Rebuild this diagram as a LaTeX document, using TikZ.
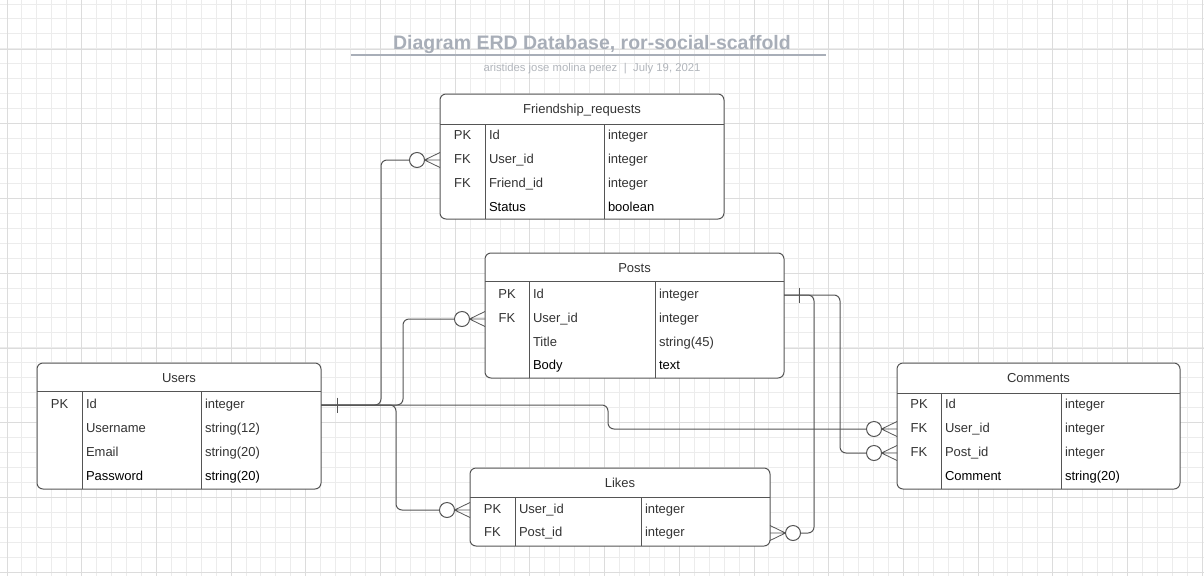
\documentclass[tikz,border=0pt]{standalone}
\usepackage{fontspec}
\setmainfont{Liberation Sans}
\usetikzlibrary{calc}
\definecolor{gridminor}{RGB}{236,236,236}
\definecolor{gridmajor}{RGB}{220,220,220}
\definecolor{edgec}{RGB}{85,85,85}
\definecolor{txtc}{RGB}{51,51,51}
\definecolor{titlec}{RGB}{168,174,184}
\definecolor{subc}{RGB}{178,182,188}
\tikzset{
 entbox/.style={draw=edgec, fill=white, line width=1, rounded corners=6, inner sep=0, outer sep=0, anchor=north west},
 entline/.style={draw=edgec, line width=1},
 txt/.style={inner sep=0, outer sep=0, text=txtc, font=\fontsize{13}{15}\selectfont},
 conn/.style={draw=edgec, line width=1, rounded corners=6},
 crow/.style={draw=edgec, line width=0.8},
 zc/.style={circle, draw=edgec, line width=1, fill=white, minimum size=15, inner sep=0, outer sep=0},
}
% #1 name #2 left #3 top #4 w #5 h #6 header #7 col1 #8 col2 #9 title
\newcommand\erdent[9]{%
  \node[entbox, minimum width=#4, minimum height=#5] (#1) at (#2,#3) {};
  \node[txt, anchor=base] (#1-h) at ($(#1.north)+(0,19.3)$) {#9};
  \draw[entline] ($(#1.north west)+(0,#6)$) -- ($(#1.north east)+(0,#6)$);
  \draw[entline] ($(#1.north west)+(#7,#6)$) -- ($(#1.south west)+(#7,0)$);
  \draw[entline] ($(#1.north west)+(#8,#6)$) -- ($(#1.south west)+(#8,0)$);
}
% #1 entity #2 row #3 yoff #4 col1 #5 col2 #6 key #7 field #8 type #9 colour
\newcommand\erdrow[9]{%
  \coordinate (#2w) at ($(#1.north west)+(0,#3)$);
  \coordinate (#2e) at ($(#1.north east)+(0,#3)$);
  \node[txt, text=txtc, anchor=base] (#2-k) at ($(#2w)+(#4/2,3.4)$) {#6};
  \node[txt, text=#9, anchor=base west] (#2-n) at ($(#2w)+(#4+4,3.4)$) {#7};
  \node[txt, text=#9, anchor=base west] (#2-t) at ($(#2w)+(#5+4,3.4)$) {#8};
}
\newcommand\zomL[2]{%
  \node[zc] (#1) at ($(#2)+(-23,0)$) {};
  \draw[crow] (#1.east) -- ($(#2)+(0,-7.5)$) (#1.east) -- (#2) (#1.east) -- ($(#2)+(0,7.5)$);
}
\newcommand\zomR[2]{%
  \node[zc] (#1) at ($(#2)+(23,0)$) {};
  \draw[crow] (#1.west) -- ($(#2)+(0,-7.5)$) (#1.west) -- (#2) (#1.west) -- ($(#2)+(0,7.5)$);
}
\begin{document}
\begin{tikzpicture}[x=1pt,y=-1pt]
\useasboundingbox (0,0) rectangle (1204,576);
\fill[white] (0,0) rectangle (1204,576);
% grid
\foreach \i in {0,...,80} { \draw[gridminor, line width=1] ({7+14.94*\i},0) -- ({7+14.94*\i},576); }
\foreach \j in {0,...,38} { \draw[gridminor, line width=1] (0,{4+14.95*\j}) -- (1204,{4+14.95*\j}); }
\foreach \i in {0,...,16} { \draw[gridmajor, line width=1] ({7+74.7*\i},0) -- ({7+74.7*\i},576); }
\foreach \j in {0,...,7} { \draw[gridmajor, line width=1] (0,{49+74.75*\j}) -- (1204,{49+74.75*\j}); }
% title
\node[inner sep=0, text=titlec, font=\bfseries\fontsize{19.5}{22}\selectfont, anchor=base] (title) at (592,49) {Diagram ERD Database, ror-social-scaffold};
\draw[titlec, line width=1.6] (351,54.7) -- (826,54.7);
\node[inner sep=0, text=subc, font=\fontsize{11.3}{13}\selectfont, anchor=base] (subtitle) at (592,71.3) {aristides jose molina perez\hspace{6.5pt}|\hspace{6.5pt}July 19, 2021};
% entities
\erdent{users}{37}{363}{284}{126}{28}{45}{164}{Users}
\erdrow{users}{u1}{42}{45}{164}{PK}{Id}{integer}{txtc}
\erdrow{users}{u2}{66}{45}{164}{}{Username}{string(12)}{txtc}
\erdrow{users}{u3}{90}{45}{164}{}{Email}{string(20)}{txtc}
\erdrow{users}{u4}{114}{45}{164}{}{Password}{string(20)}{black}

\erdent{fr}{440}{94}{284}{125}{30}{45}{164}{Friendship\_requests}
\erdrow{fr}{f1}{42}{45}{164}{PK}{Id}{integer}{txtc}
\erdrow{fr}{f2}{66}{45}{164}{FK}{User\_id}{integer}{txtc}
\erdrow{fr}{f3}{90}{45}{164}{FK}{Friend\_id}{integer}{txtc}
\erdrow{fr}{f4}{114}{45}{164}{}{Status}{boolean}{black}

\erdent{po}{485}{253}{299}{125}{28}{44}{170}{Posts}
\erdrow{po}{p1}{42}{44}{170}{PK}{Id}{integer}{txtc}
\erdrow{po}{p2}{66}{44}{170}{FK}{User\_id}{integer}{txtc}
\erdrow{po}{p3}{90}{44}{170}{}{Title}{string(45)}{txtc}
\erdrow{po}{p4}{113}{44}{170}{}{Body}{text}{black}

\erdent{cm}{897}{363}{283}{126}{30}{44}{164}{Comments}
\erdrow{cm}{c1}{42}{44}{164}{PK}{Id}{integer}{txtc}
\erdrow{cm}{c2}{66}{44}{164}{FK}{User\_id}{integer}{txtc}
\erdrow{cm}{c3}{90}{44}{164}{FK}{Post\_id}{integer}{txtc}
\erdrow{cm}{c4}{114}{44}{164}{}{Comment}{string(20)}{black}

\erdent{lk}{470}{468}{300}{78}{29}{45}{171}{Likes}
\erdrow{lk}{l1}{42}{45}{171}{PK}{User\_id}{integer}{txtc}
\erdrow{lk}{l2}{65}{45}{171}{FK}{Post\_id}{integer}{txtc}
% zero-or-many ends
\zomL{frc}{f2w}
\zomL{poc}{p2w}
\zomL{lkc1}{l1w}
\zomL{cmc1}{c2w}
\zomL{cmc2}{c3w}
\zomR{lkc2}{l2e}
% connectors
\draw[conn] (u1e) -- ++(60,0) |- (frc.west);
\draw[conn] (u1e) -- ++(82,0) |- (poc.west);
\draw[conn] (u1e) -- ++(75,0) |- (lkc1.west);
\draw[conn] (u1e) -- ++(287,0) |- (cmc1.west);
\draw[conn] (p1e) -- ++(56,0) |- (cmc2.west);
\draw[conn] (p1e) -- ++(30,0) |- (lkc2.east);
% one marks
\draw[conn] ($(u1e)+(16,-7.5)$) -- ($(u1e)+(16,7.5)$);
\draw[conn] ($(p1e)+(15,-7.5)$) -- ($(p1e)+(15,7.5)$);
\end{tikzpicture}
\end{document}
